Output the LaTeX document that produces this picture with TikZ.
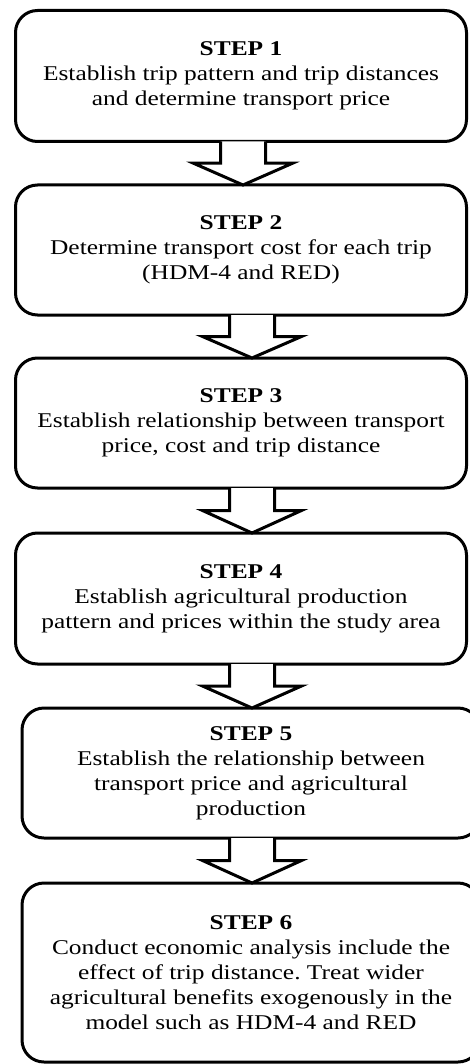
\documentclass[tikz,border=0pt]{standalone}
\usepackage{fontspec}
\setmainfont[FakeStretch=1.21]{Liberation Serif}
\usetikzlibrary{calc}
\frenchspacing

\tikzset{
  stepbox/.style={draw, line width=3pt, rounded corners=22pt, align=center,
    inner sep=0pt, outer sep=0pt, font=\fontsize{21}{25}\selectfont},
  blockarrow/.style={draw, line width=3pt, line join=miter, fill=white}
}

% Hollow block arrow from the bottom of #1 to the top of #2,
% its axis shifted by #3 from the centre of #1.
\newcommand\flowarrow[3]{%
  \coordinate (st) at ([xshift=#3]#1.south);
  \path (st |- #2.north) coordinate (tp);
  \coordinate (hb) at ($(st)!0.5!(tp)$);
  \draw[blockarrow] ([xshift=-22.5pt]st) -- ([xshift=-22.5pt]hb)
    -- ([xshift=-49.5pt]hb) -- (tp) -- ([xshift=49.5pt]hb)
    -- ([xshift=22.5pt]hb) -- ([xshift=22.5pt]st);
}

\begin{document}
\begin{tikzpicture}[x=1pt,y=-1pt]
  \fill[white] (0,0) rectangle (470,1064);
  \clip (0,0) rectangle (470,1064);

  \node[stepbox, minimum width=451pt, minimum height=131pt] (s1) at (241,76)
    {\textbf{STEP 1}\\Establish trip pattern and trip distances\\and determine transport price};
  \node[stepbox, minimum width=451pt, minimum height=130pt] (s2) at (241,250)
    {\textbf{STEP 2}\\Determine transport cost for each trip\\(HDM-4 and RED)};
  \node[stepbox, minimum width=451pt, minimum height=130pt] (s3) at (241,423)
    {\textbf{STEP 3}\\Establish relationship between transport\\price, cost and trip distance};
  \node[stepbox, minimum width=451pt, minimum height=131pt] (s4) at (241,598.5)
    {\textbf{STEP 4}\\Establish agricultural production\\pattern and prices within the study area};
  \node[stepbox, minimum width=458pt, minimum height=130pt] (s5) at (251,773)
    {\textbf{STEP 5}\\Establish the relationship between\\transport price and agricultural\\production};
  \node[stepbox, minimum width=458pt, minimum height=179pt] (s6) at (251,972.5)
    {\textbf{STEP 6}\\Conduct economic analysis include the\\effect of trip distance. Treat wider\\agricultural benefits exogenously in the\\model such as HDM-4 and RED};

  \flowarrow{s1}{s2}{2pt}
  \flowarrow{s2}{s3}{11pt}
  \flowarrow{s3}{s4}{11pt}
  \flowarrow{s4}{s5}{11pt}
  \flowarrow{s5}{s6}{1pt}
\end{tikzpicture}
\end{document}
